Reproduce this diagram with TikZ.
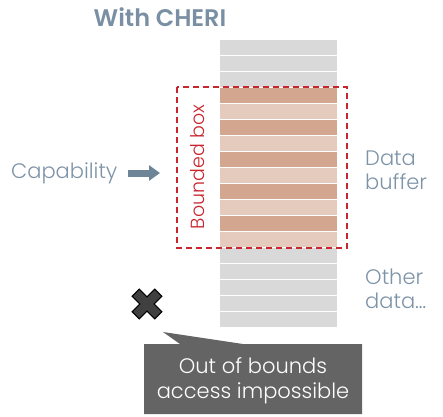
\documentclass[tikz,border=0pt]{standalone}
\usepackage{fontspec}
\setmainfont{Poppins}[UprightFont=* Light, BoldFont=* SemiBold]
\usetikzlibrary{arrows.meta}
\definecolor{titleblue}{HTML}{7A8FA3}
\definecolor{labelblue}{HTML}{7D93A7}
\definecolor{arrowblue}{HTML}{6E8598}
\definecolor{stripegray}{HTML}{D9D9D9}
\definecolor{darkbrown}{HTML}{D3A690}
\definecolor{lightbrown}{HTML}{E5CBBD}
\definecolor{boxred}{HTML}{C8262F}
\definecolor{calloutgray}{HTML}{646464}
\definecolor{crossgray}{HTML}{404040}
\tikzset{
  stripe/.style={fill=#1, draw=none},
  label/.style={text=labelblue, font=\fontsize{21}{24}\selectfont, align=left, anchor=west, inner sep=0pt},
}
\begin{document}
\begin{tikzpicture}[x=1pt,y=-1pt]
\useasboundingbox (0,0) rectangle (443,416);
% title
\node[text=titleblue, font=\fontsize{24}{28}\bfseries\selectfont, inner sep=0pt] (title) at (160,17) {With CHERI};
% column of stripes
\foreach \i in {0,...,17}{
  \pgfmathtruncatemacro{\t}{40+16*\i}
  \ifnum\i<3 \def\c{stripegray}\else
    \ifnum\i>12 \def\c{stripegray}\else
      \pgfmathtruncatemacro{\m}{mod(\i,2)}
      \ifnum\m=1 \def\c{darkbrown}\else\def\c{lightbrown}\fi
    \fi
  \fi
  \fill[\c] (220,\t) rectangle (337,\t+14.7);
}
% bounded box
\draw[boxred, line width=1.6pt, dash pattern=on 6pt off 4pt] (177,87) rectangle (347,248);
\node[text=boxred, rotate=90, font=\fontsize{19}{22}\selectfont, inner sep=0pt] (bbox) at (198,167) {Bounded box};
% capability
\node[label] (cap) at (11,173) {Capability};
\coordinate (arrowend) at (160,173);
\draw[arrowblue, line width=7pt, -{Triangle[width=15pt,length=11pt]}] (cap.east) ++(10,0) -- (arrowend);
% data buffer
\node[label] (data) at (365,170) {Data\\buffer};
\node[label] (other) at (365,289) {Other\\data\dots};
% cross
\begin{scope}[shift={(147,304)}, rotate=45]
  \filldraw[fill=crossgray, draw=black, line width=1pt]
    (-5,-16) -- (5,-16) -- (5,-5) -- (16,-5) -- (16,5) -- (5,5) -- (5,16) -- (-5,16) -- (-5,5) -- (-16,5) -- (-16,-5) -- (-5,-5) -- cycle;
\end{scope}
\coordinate (cross) at (147,304);
% callout
\fill[calloutgray] (144,344) -- (180,344) -- (163,332) -- (243,344) -- (362,344) -- (362,414) -- (144,414) -- cycle;
\node[text=white, font=\fontsize{21}{25}\selectfont, align=center, inner sep=0pt] (msg) at (253,381) {Out of bounds\\access impossible};
\end{tikzpicture}
\end{document}
